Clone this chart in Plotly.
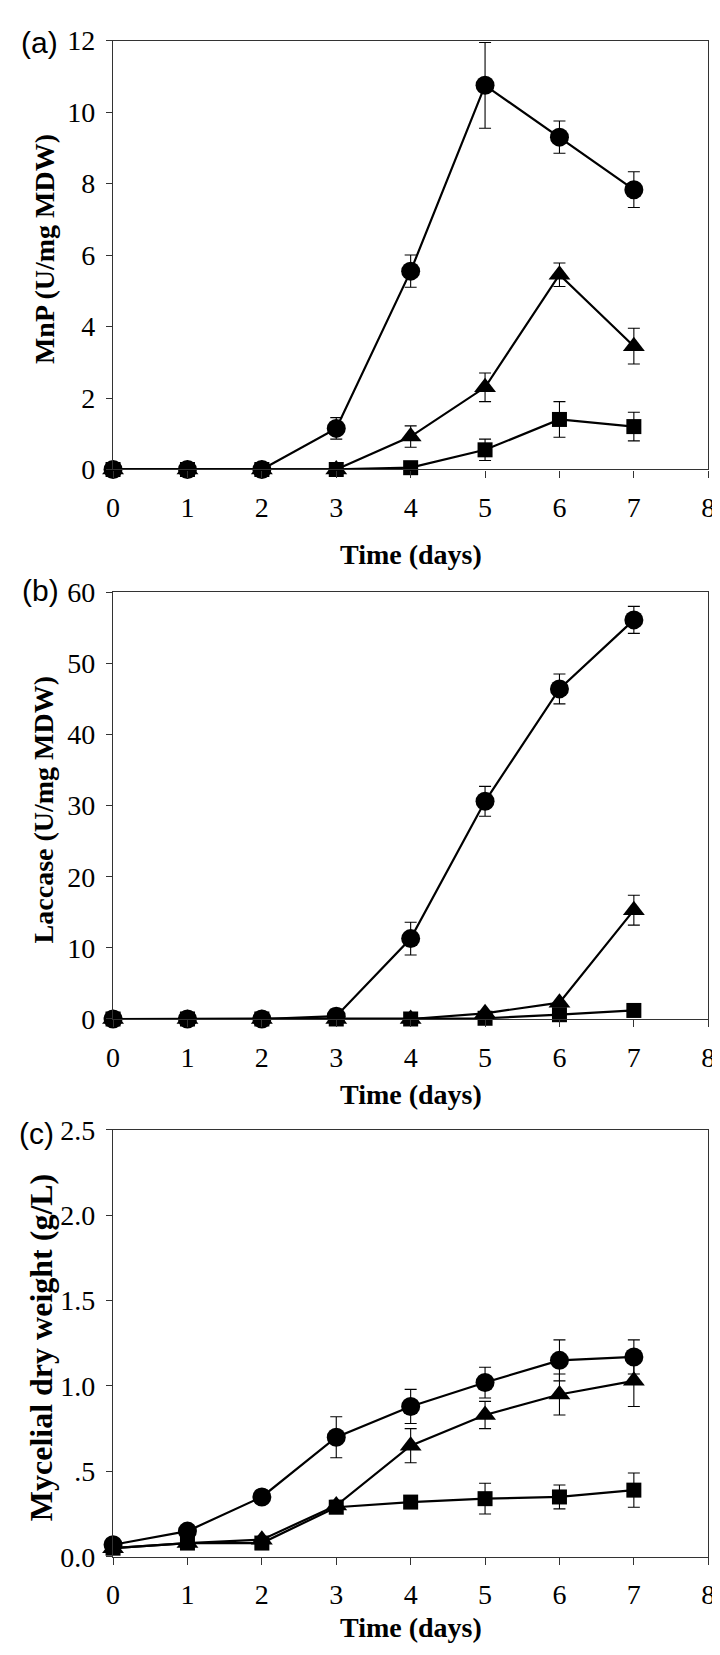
import plotly.graph_objects as go

# ---------------- data ----------------
days = [0, 1, 2, 3, 4, 5, 6, 7]
x_ticks = [0, 1, 2, 3, 4, 5, 6, 7, 8]

# (a) MnP (U/mg MDW)
mnp_circle = [0, 0, 0, 1.15, 5.55, 10.75, 9.3, 7.83]
mnp_circle_err = [0, 0, 0, 0.3, 0.45, 1.2, 0.45, 0.5]
mnp_tri = [0, 0, 0, 0, 0.92, 2.3, 5.45, 3.45]
mnp_tri_err = [0, 0, 0, 0.05, 0.3, 0.4, 0.33, 0.5]
mnp_sq = [0, 0, 0, 0, 0.05, 0.55, 1.4, 1.2]
mnp_sq_err = [0, 0, 0, 0, 0, 0.3, 0.5, 0.4]

# (b) Laccase (U/mg MDW)
lac_circle = [0, 0, 0, 0.4, 11.3, 30.6, 46.4, 56.1]
lac_circle_err = [0, 0, 0, 1.0, 2.3, 2.1, 2.1, 1.9]
lac_tri = [0, 0, 0, 0, 0, 0.8, 2.3, 15.3]
lac_tri_err = [0, 0, 0, 0, 0, 0, 0, 2.1]
lac_sq = [0, 0, 0, 0, 0, 0.1, 0.6, 1.2]
lac_sq_err = [0, 0, 0, 0, 0, 0, 0, 0]

# (c) Mycelial dry weight (g/L)
mdw_circle = [0.07, 0.15, 0.35, 0.70, 0.88, 1.02, 1.15, 1.17]
mdw_circle_err = [0, 0, 0.04, 0.12, 0.10, 0.09, 0.12, 0.10]
mdw_tri = [0.05, 0.08, 0.10, 0.30, 0.65, 0.83, 0.95, 1.03]
mdw_tri_err = [0, 0, 0, 0.03, 0.10, 0.08, 0.12, 0.15]
mdw_sq = [0.05, 0.08, 0.08, 0.29, 0.32, 0.34, 0.35, 0.39]
mdw_sq_err = [0, 0, 0, 0, 0.02, 0.09, 0.07, 0.10]

c_ticks = [0, 0.5, 1.0, 1.5, 2.0, 2.5]
c_ticktext = ["0.0", ".5", "1.0", "1.5", "2.0", "2.5"]

# ---------------- layout helpers ----------------
W, H = 720, 1655
PX_L, PX_R = 100, 707
panels = [  # (top px, bottom px)
    (18, 455),
    (580, 1015),
    (1128, 1563),
]

def ydom(top, bot):
    return [1 - bot / H, 1 - top / H]

xdom = [PX_L / W, PX_R / W]
AX = "#333333"
SERIF = "Liberation Serif"
SANS = "Liberation Sans"

fig = go.Figure()

series_sets = [
    (mnp_circle, mnp_circle_err, mnp_tri, mnp_tri_err, mnp_sq, mnp_sq_err),
    (lac_circle, lac_circle_err, lac_tri, lac_tri_err, lac_sq, lac_sq_err),
    (mdw_circle, mdw_circle_err, mdw_tri, mdw_tri_err, mdw_sq, mdw_sq_err),
]

for i, (c, ce, t, te, s, se) in enumerate(series_sets):
    xa = "x" if i == 0 else f"x{i+1}"
    ya = "y" if i == 0 else f"y{i+1}"
    for vals, errs, sym, size, name in [
        (c, ce, "circle", 19, "Circle"),
        (t, te, "triangle-up", 19, "Triangle"),
        (s, se, "square", 15, "Square"),
    ]:
        fig.add_trace(go.Scatter(
            x=days, y=vals, xaxis=xa, yaxis=ya, name=name,
            mode="lines+markers", cliponaxis=False,
            line=dict(color="black", width=2.2),
            marker=dict(symbol=sym, size=size, color="black"),
            error_y=dict(type="data", array=errs, visible=True,
                         color="black", thickness=1.1, width=6),
            showlegend=False,
        ))

common_x = dict(range=[0, 8], tickvals=x_ticks, ticks="outside", ticklen=7,
                tickwidth=1.3, tickcolor=AX, showline=True, linecolor=AX,
                linewidth=1.3, mirror=True, showgrid=False, zeroline=False,
                ticklabelstandoff=6,
                tickfont=dict(family=SERIF, size=28, color="black"),
                domain=xdom)
common_y = dict(ticks="outside", ticklen=6, tickwidth=1.3, tickcolor=AX,
                showline=True, linecolor=AX, linewidth=1.3, mirror=True,
                showgrid=False, zeroline=False, ticklabelstandoff=5,
                tickfont=dict(family=SERIF, size=28, color="black"))

fig.update_layout(
    xaxis=dict(anchor="y", **common_x),
    xaxis2=dict(anchor="y2", **common_x),
    xaxis3=dict(anchor="y3", **common_x),
    yaxis=dict(anchor="x", domain=ydom(*panels[0]), range=[0, 12],
               tickvals=[0, 2, 4, 6, 8, 10, 12], **common_y),
    yaxis2=dict(anchor="x2", domain=ydom(*panels[1]), range=[0, 60],
                tickvals=[0, 10, 20, 30, 40, 50, 60], **common_y),
    yaxis3=dict(anchor="x3", domain=ydom(*panels[2]), range=[0, 2.5],
                tickvals=c_ticks, ticktext=c_ticktext, **common_y),
    width=W, height=H,
    margin=dict(l=0, r=0, t=0, b=0),
    plot_bgcolor="white", paper_bgcolor="white",
    showlegend=False,
)

annotations = []
# panel labels
for lab, (px, py) in zip(["(a)", "(b)", "(c)"], [(25, 20), (26, 578), (22, 1132)]):
    annotations.append(dict(text=lab, x=px / W, y=1 - py / H, xref="paper",
                            yref="paper", showarrow=False, xanchor="center",
                            yanchor="middle",
                            font=dict(family=SANS, size=30, color="black")))
# x titles
for py in [542, 1092, 1635]:
    annotations.append(dict(text="<b>Time (days)</b>", x=((PX_L + PX_R) / 2) / W,
                            y=1 - py / H, xref="paper", yref="paper",
                            showarrow=False, xanchor="center", yanchor="middle",
                            font=dict(family=SERIF, size=28, color="black")))
# y titles
for txt, px, py, sz in [("MnP (U/mg MDW)", 30, 230, 28),
                        ("Laccase (U/mg MDW)", 30, 802, 28),
                        ("Mycelial dry weight (g/L)", 26, 1350, 32)]:
    annotations.append(dict(text=f"<b>{txt}</b>", x=px / W, y=1 - py / H,
                            xref="paper", yref="paper", showarrow=False,
                            textangle=-90, xanchor="center", yanchor="middle",
                            font=dict(family=SERIF, size=sz, color="black")))

fig.update_layout(annotations=annotations)
fig.write_html("out.html")
